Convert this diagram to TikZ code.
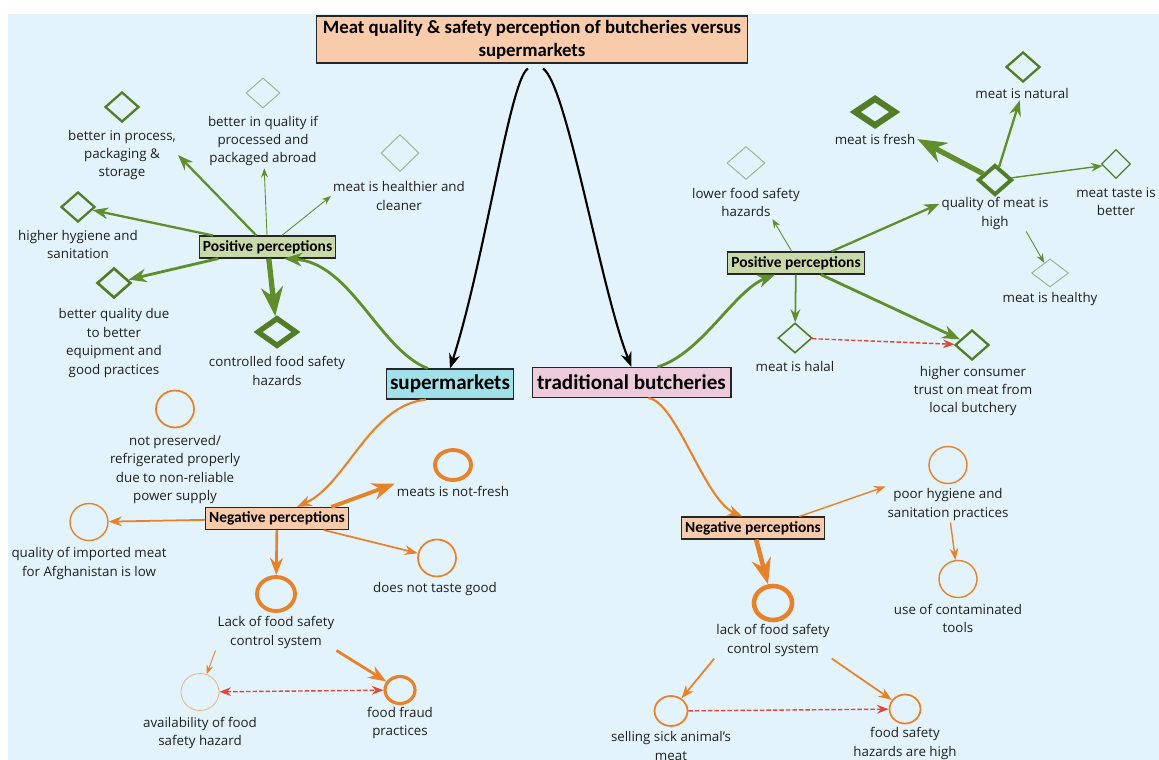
\documentclass[tikz,border=0pt]{standalone}
\usepackage{fontspec}
\setmainfont{Open Sans}
\newfontfamily\boxfont{Carlito}
\usetikzlibrary{shapes.geometric, arrows.meta}

\definecolor{bgblue}{RGB}{227,243,251}
\definecolor{peach}{RGB}{248,203,170}
\definecolor{supcyan}{RGB}{160,225,233}
\definecolor{butpink}{RGB}{238,202,221}
\definecolor{posfill}{RGB}{200,218,170}
\definecolor{grn}{RGB}{96,142,44}
\definecolor{dgrn}{RGB}{82,124,38}
\definecolor{lgrn}{RGB}{150,176,136}
\definecolor{org}{RGB}{232,130,42}
\definecolor{lorg}{RGB}{234,182,132}
\definecolor{redd}{RGB}{222,72,58}

\begin{document}
\begin{tikzpicture}[x=0.02cm, y=-0.02cm,
    txt/.style={
        font=\fontsize{7.6}{10.5}\selectfont,
        align=center,
        inner sep=1pt,
        text=black!88
    },
    box/.style={
        rectangle,
        draw=black!85,
        line width=0.6pt,
        inner xsep=2pt,
        inner ysep=1pt,
        minimum height=0.44cm,
        font=\boxfont\bfseries\fontsize{8.8}{10}\selectfont
    },
    posbox/.style={box, fill=posfill},
    negbox/.style={box, fill=peach},
    mainbox/.style={
        box,
        minimum height=0.6cm,
        font=\boxfont\bfseries\fontsize{12}{14}\selectfont
    },
    dia/.style={
        diamond,
        draw=dgrn,
        line width=1.3pt,
        minimum width=0.68cm,
        minimum height=0.6cm,
        inner sep=0pt
    },
    dialight/.style={dia, draw=lgrn, line width=0.5pt},
    diaheavy/.style={dia, line width=3pt, minimum width=0.8cm, minimum height=0.58cm},
    cir/.style={
        ellipse,
        draw=org,
        line width=1pt,
        minimum width=0.76cm,
        minimum height=0.74cm,
        inner sep=0pt
    },
    cirlight/.style={cir, draw=lorg, line width=0.5pt},
    cirheavy/.style={cir, line width=2.2pt},
    glink/.style={-{Stealth}, draw=grn, line width=1.3pt},
    glinkthin/.style={glink, line width=0.5pt},
    glinkheavy/.style={glink, line width=3pt},
    olink/.style={-{Stealth}, draw=org, line width=1pt},
    olinkthin/.style={olink, line width=0.5pt},
    olinkheavy/.style={olink, line width=2.2pt},
    rlink/.style={-{Stealth}, draw=redd, dash pattern=on 2.5pt off 1.2pt, line width=0.8pt},
    blink/.style={-{Stealth}, draw=black, line width=1.2pt}
]

    % CANVAS
    \useasboundingbox (0,0) rectangle (1159,760);
    \fill[bgblue] (8,14) rectangle (1159,760);

    % TITLE AND THE TWO OUTLETS
    \node[box, fill=peach, align=center, minimum width=8.64cm, minimum height=0.94cm,
          font=\boxfont\bfseries\fontsize{10.7}{13}\selectfont] (title) at (532,39.5)
          {Meat quality \& safety perception of butcheries versus\\supermarkets};
    \node[mainbox, fill=supcyan, minimum width=2.52cm] (sup) at (450,384) {supermarkets};
    \node[mainbox, fill=butpink, minimum width=3.98cm] (trad) at (631.5,382.5) {traditional butcheries};

    % SUPERMARKETS: POSITIVE PERCEPTIONS
    \node[posbox] (ppL) at (267.5,247) {Positive perceptions};
    \node[dia] (dProcess) at (122,107) {};
    \node[txt] (lProcess) at (122,155) {better in process,\\packaging \&\\storage};
    \node[dialight] (dAbroad) at (263,93) {};
    \node[txt] (lAbroad) at (263,141) {better in quality if\\processed and\\packaged abroad};
    \node[dialight, minimum width=0.76cm, minimum height=0.74cm] (dHealthier) at (400,153) {};
    \node[txt] (lHealthier) at (399,196) {meat is healthier and\\cleaner};
    \node[dia] (dHygiene) at (78,207) {};
    \node[txt] (lHygiene) at (78,244.5) {higher hygiene and\\sanitation};
    \node[dia, line width=1.5pt] (dEquip) at (114,283) {};
    \node[txt] (lEquip) at (114,343) {better quality due\\to better\\equipment and\\good practices};
    \node[diaheavy] (dControlled) at (277,332) {};
    \node[txt] (lControlled) at (277,371) {controlled food safety\\hazards};

    % BUTCHERIES: POSITIVE PERCEPTIONS
    \node[posbox] (ppR) at (796,263) {Positive perceptions};
    \node[dialight, minimum width=0.76cm, minimum height=0.66cm] (dLower) at (746,163) {};
    \node[txt] (lLower) at (746,202.5) {lower food safety\\hazards};
    \node[dia, line width=2.2pt] (dQuality) at (995,180) {};
    \node[txt] (lQuality) at (995,213.5) {quality of meat is\\high};
    \node[dia, line width=0.9pt] (dHalal) at (795,338) {};
    \node[txt] (lHalal) at (795,366) {meat is halal};
    \node[dia] (dTrust) at (972,345) {};
    \node[txt] (lTrust) at (973,391) {higher consumer\\trust on meat from\\local butchery};
    \node[diaheavy, line width=3.5pt, minimum width=0.84cm] (dFresh) at (875,112) {};
    \node[txt] (lFresh) at (875,139) {meat is fresh};
    \node[dia] (dNatural) at (1023,67) {};
    \node[txt] (lNatural) at (1022,93) {meat is natural};
    \node[dia, line width=0.7pt, minimum width=0.58cm, minimum height=0.58cm] (dTaste) at (1116,164) {};
    \node[txt] (lTaste) at (1116,201.5) {meat taste is\\better};
    \node[dialight, minimum width=0.74cm, minimum height=0.56cm] (dHealthy) at (1050,273) {};
    \node[txt] (lHealthy) at (1050,299) {meat is healthy};

    % SUPERMARKETS: NEGATIVE PERCEPTIONS
    \node[negbox] (npL) at (277,518.5) {Negative perceptions};
    \node[cir] (cPreserved) at (175,409) {};
    \node[txt] (lPreserved) at (175,469.5) {not preserved/\\refrigerated properly\\due to non-reliable\\power supply};
    \node[cirheavy, minimum width=0.72cm, minimum height=0.6cm] (cNotFresh) at (453,465) {};
    \node[txt] (lNotFresh) at (453,491) {meats is not-fresh};
    \node[cir, line width=0.8pt] (cImported) at (89,522) {};
    \node[txt] (lImported) at (89,563.5) {quality of imported meat\\for Afghanistan is low};
    \node[cir] (cNoTaste) at (437,558) {};
    \node[txt] (lNoTaste) at (435,589) {does not taste good};
    \node[cirheavy, minimum height=0.68cm] (cLack) at (276,594) {};
    \node[txt] (lLack) at (276,632.5) {Lack of food safety\\control system};
    \node[cirlight] (cAvail) at (200,692) {};
    \node[txt] (lAvail) at (200,733) {availability of food\\safety hazard};
    \node[cirheavy, line width=1.8pt, minimum width=0.6cm, minimum height=0.54cm] (cFraud) at (400,690) {};
    \node[txt] (lFraud) at (400,723) {food fraud\\practices};

    % BUTCHERIES: NEGATIVE PERCEPTIONS
    \node[negbox] (npR) at (753,528) {Negative perceptions};
    \node[cir, line width=0.8pt] (cPoor) at (948,465) {};
    \node[txt] (lPoor) at (948,504.5) {poor hygiene and\\sanitation practices};
    \node[cir, line width=0.8pt] (cTools) at (958,579) {};
    \node[txt] (lTools) at (958,618.5) {use of contaminated\\tools};
    \node[cirheavy, line width=2.6pt, minimum height=0.68cm] (cLack2) at (773,603) {};
    \node[txt] (lLack2) at (773,640.5) {lack of food safety\\control system};
    \node[cir, minimum width=0.66cm, minimum height=0.6cm] (cSick) at (671,711) {};
    \node[txt] (lSick) at (671,746) {selling sick animal's\\meat};
    \node[cir, minimum width=0.62cm, minimum height=0.58cm] (cHigh) at (905,709) {};
    \node[txt] (lHigh) at (905,743.5) {food safety\\hazards are high};

    % TITLE TO OUTLETS
    \draw[blink] ([xshift=-0.08cm,yshift=-0.1cm]title.south) .. controls +(-18,10) and +(35,-109) .. (sup.north);
    \draw[blink] ([xshift=0.22cm,yshift=-0.1cm]title.south) .. controls +(24,16) and +(-31,-78) .. (trad.north);

    % OUTLETS TO PERCEPTION GROUPS
    \draw[glink, line width=1.6pt] (sup.145) .. controls +(-49,-19) and +(67,4) .. (ppL.-35);
    \draw[glink, line width=1.6pt] (trad.31) .. controls +(44,-13) and +(-41,16) .. (ppR.209);
    \draw[olink, line width=1.2pt] (sup.213) .. controls +(-57,6) and +(50,-23) .. (npL.30);
    \draw[olink, line width=1.2pt] (trad.-43) .. controls +(28,3) and +(-38,-17) .. (npR.133);

    % SUPERMARKET POSITIVES
    \draw[glink] (ppL) -- (lProcess.east);
    \draw[glinkthin] (ppL) -- (lAbroad);
    \draw[glinkthin] (ppL) -- (lHealthier.west);
    \draw[glink] (ppL) -- (dHygiene);
    \draw[glink, line width=1.6pt] (ppL) -- (dEquip);
    \draw[glinkheavy] (ppL) -- (dControlled);

    % BUTCHERY POSITIVES
    \draw[glinkthin] (ppR.110) -- (lLower.-32);
    \draw[glink] (ppR.18) -- (lQuality.170);
    \draw[glink, line width=1pt] (ppR) -- (dHalal);
    \draw[glink, line width=1.6pt] (ppR) -- (dTrust);
    \draw[rlink] (dHalal) -- (dTrust);
    \draw[glinkheavy] (dQuality) -- (lFresh.east);
    \draw[glink] (dQuality) -- (lNatural);
    \draw[glink, line width=0.8pt] (dQuality) -- (dTaste);
    \draw[glinkthin] (lQuality.-30) -- (dHealthy);

    % SUPERMARKET NEGATIVES
    \draw[olinkheavy] (npL.12) -- (lNotFresh.north west);
    \draw[olink] (npL) -- (cImported);
    \draw[olink] (npL) -- (cNoTaste);
    \draw[olink, line width=1.5pt] (npL) -- (cLack);
    \draw[olinkthin] (lLack.south west) -- (cAvail);
    \draw[olink, line width=1.6pt] (lLack.south east) -- (cFraud);
    \draw[rlink, {Stealth}-{Stealth}] (cAvail) -- (cFraud);

    % BUTCHERY NEGATIVES
    \draw[olink, line width=0.8pt] (npR.14) -- (lPoor.north west);
    \draw[olink, line width=0.8pt] (lPoor) -- (cTools);
    \draw[olinkheavy, line width=2.6pt] (npR) -- (cLack2);
    \draw[olink] (lLack2.south west) -- (cSick);
    \draw[olink] (lLack2.south east) -- (cHigh);
    \draw[rlink] (cSick) -- (cHigh);

\end{tikzpicture}
\end{document}
